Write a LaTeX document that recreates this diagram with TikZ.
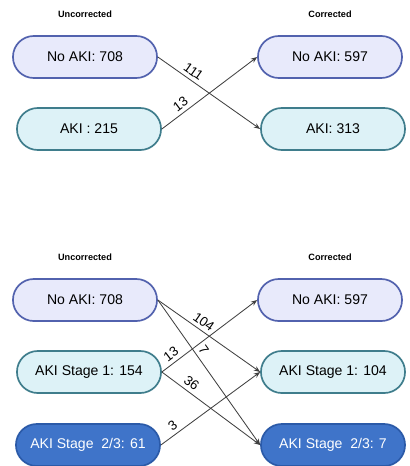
\documentclass[tikz,border=0pt]{standalone}
\usepackage{fontspec}
\setmainfont{Liberation Sans}
\usetikzlibrary{arrows.meta, positioning}
\definecolor{noakifill}{HTML}{E8EAFB}
\definecolor{noakidraw}{HTML}{5262AE}
\definecolor{akifill}{HTML}{DDF2F7}
\definecolor{akidraw}{HTML}{3F7D8C}
\definecolor{severefill}{HTML}{3F74C9}
\definecolor{severedraw}{HTML}{2B5AA8}
\definecolor{flow}{HTML}{404040}

\begin{document}
\begin{tikzpicture}[
    x=0.025cm, y=-0.025cm,
    state/.style={draw, rectangle, rounded corners=0.52cm, align=center, minimum height=1.05cm, minimum width=3.6cm, line width=1.2pt, font=\fontsize{10}{12}\selectfont},
    noaki/.style={state, fill=noakifill, draw=noakidraw},
    aki/.style={state, fill=akifill, draw=akidraw},
    severe/.style={state, fill=severefill, draw=severedraw, text=white},
    heading/.style={font=\fontsize{6.5}{8}\selectfont\bfseries},
    flowline/.style={draw=flow, line width=0.6pt, -{Stealth[length=4.5pt, width=3.5pt]}},
    label/.style={draw=none, fill=none, sloped, above=1.5pt, inner sep=1pt, font=\fontsize{9.5}{11}\selectfont}
  ]
  \useasboundingbox (0,0) rectangle (409,466);

  % top: two classes
  \node[heading] (T1) at (85,14) {Uncorrected};
  \node[heading] (T2) at (330,14) {Corrected};
  \node[noaki] (A) at (85,57) {No AKI: 708};
  \node[aki] (B) at (89,129) {AKI : 215};
  \node[noaki] (C) at (330,57) {No AKI: 597};
  \node[aki] (D) at (333,129) {AKI: 313};

  \draw[flowline] (A.east) -- node[label, pos=0.3] {111} (D.west);
  \draw[flowline] (B.east) -- node[label, pos=0.25] {13} (C.west);

  % bottom: three classes
  \node[heading] (T3) at (85,257) {Uncorrected};
  \node[heading] (T4) at (330,257) {Corrected};
  \node[noaki] (E) at (85,300) {No AKI: 708};
  \node[aki] (F) at (89,372) {AKI Stage 1: 154};
  \node[severe] (G) at (88,445) {AKI Stage~~2/3: 61};
  \node[noaki] (H) at (330,300) {No AKI: 597};
  \node[aki] (I) at (333,372) {AKI Stage 1: 104};
  \node[severe] (J) at (333,445) {AKI Stage~~2/3: 7};

  \draw[flowline] (E.east) -- node[label, pos=0.4] {104} (I.west);
  \draw[flowline] (E.east) -- node[label, pos=0.38] {7} (J.west);
  \draw[flowline] (F.east) -- node[label, pos=0.15] {13} (H.west);
  \draw[flowline] (F.east) -- node[label, pos=0.25] {36} (J.west);
  \draw[flowline] (G.east) -- node[label, pos=0.17] {3} (I.west);
\end{tikzpicture}
\end{document}
